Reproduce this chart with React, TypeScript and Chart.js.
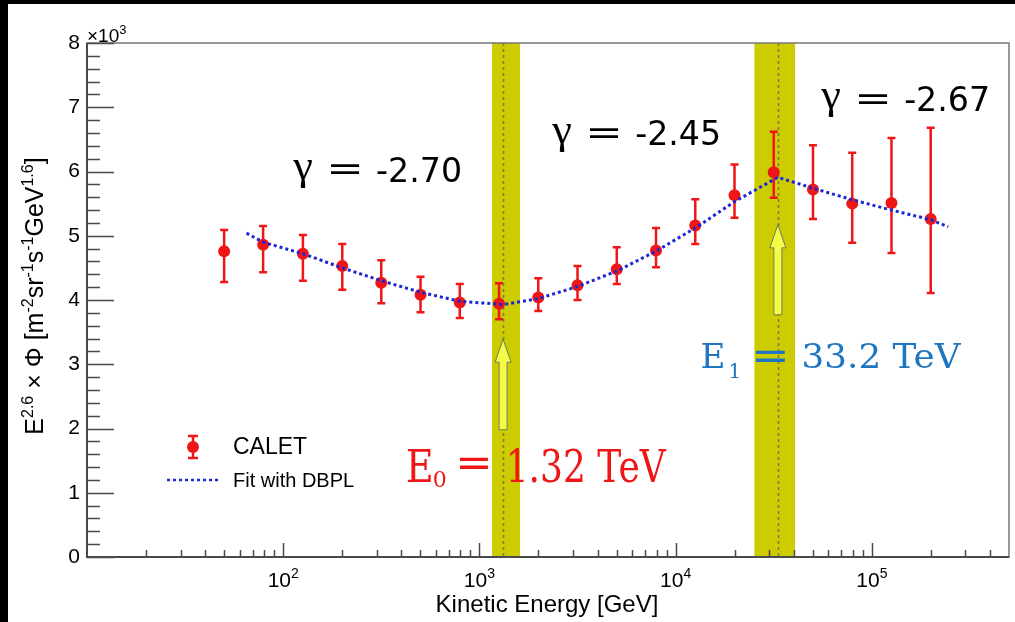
import React, { useEffect, useRef } from "react";
import { Chart, registerables } from "chart.js";

Chart.register(...registerables);

// ---------------- data ----------------
const energyGeV = [50, 79, 126, 200, 316, 501, 794, 1259, 1995, 3162, 5012, 7943, 12589, 19953, 31623, 50119, 79433, 125893, 199526];
const fluxE3 = [4.76, 4.86, 4.72, 4.53, 4.27, 4.08, 3.96, 3.94, 4.04, 4.23, 4.48, 4.77, 5.16, 5.63, 5.99, 5.72, 5.5, 5.51, 5.26];
const fluxUpperE3 = [5.09, 5.15, 5.01, 4.87, 4.62, 4.36, 4.25, 4.26, 4.34, 4.53, 4.82, 5.12, 5.57, 6.11, 6.62, 6.41, 6.29, 6.52, 6.68];
const fluxLowerE3 = [4.28, 4.43, 4.3, 4.16, 3.95, 3.81, 3.72, 3.7, 3.83, 4.0, 4.25, 4.51, 4.87, 5.28, 5.59, 5.26, 4.89, 4.73, 4.11];

const fitEnergyGeV = [65, 79, 126, 200, 316, 501, 794, 1320, 1995, 3162, 5012, 7943, 12589, 19953, 33200, 50119, 79433, 125893, 199526, 245000];
const fitFluxE3 = [5.04, 4.9, 4.72, 4.5, 4.3, 4.12, 3.98, 3.93, 4.02, 4.21, 4.45, 4.76, 5.12, 5.53, 5.91, 5.74, 5.56, 5.4, 5.25, 5.14];

const breakEnergyGeV = [1320, 33200];
const breakBandLowGeV = [1160, 25200];
const breakBandHighGeV = [1610, 40600];
const breakValueLabels = ["1.32 TeV", "33.2 TeV"];
const breakSubscripts = ["0", "1"];
const gammaValues = ["-2.70", "-2.45", "-2.67"];
const seriesNames = ["CALET", "Fit with DBPL"];
const yTickValues = [0, 1, 2, 3, 4, 5, 6, 7, 8];
const xDecadeExponents = [2, 3, 4, 5];

// ---------------- annotation anchors (data coordinates) ----------------
const gammaAnchors = [
  { x: 111, y: 5.84 },
  { x: 2320, y: 6.41 },
  { x: 54500, y: 6.94 },
];
const breakLabelAnchors = [
  { x: 421, y: 1.17 },
  { x: 13400, y: 2.94 },
];
const arrowSpans = [
  { from: 1.98, to: 3.39 },
  { from: 3.77, to: 5.17 },
];

// ---------------- styles ----------------
const RED = "rgb(238,22,22)";
const BLUE = "rgb(28,38,215)";
const BAND = "#cccc00";
const AXIS = "#4a4a4a";
const SANS = "'Liberation Sans', Arial, sans-serif";

function fitText(ctx: CanvasRenderingContext2D, text: string, x: number, y: number, font: string, width: number) {
  ctx.save();
  ctx.font = font;
  const w = ctx.measureText(text).width;
  const sx = width / w;
  ctx.translate(x, y);
  ctx.scale(sx, 1);
  ctx.fillText(text, 0, 0);
  ctx.restore();
}

function fitBox(ctx: CanvasRenderingContext2D, text: string, left: number, top: number, width: number, height: number, font: string) {
  ctx.save();
  ctx.font = font;
  const m = ctx.measureText(text);
  const bw = m.actualBoundingBoxLeft + m.actualBoundingBoxRight;
  const bh = m.actualBoundingBoxAscent + m.actualBoundingBoxDescent;
  const sx = width / bw;
  const sy = height / bh;
  ctx.translate(left, top);
  ctx.scale(sx, sy);
  ctx.fillText(text, m.actualBoundingBoxLeft, m.actualBoundingBoxAscent);
  ctx.restore();
}

function centeredGlyph(ctx: CanvasRenderingContext2D, text: string, x: number, cy: number, font: string, width: number) {
  ctx.save();
  ctx.font = font;
  const m = ctx.measureText(text);
  const mid = (m.actualBoundingBoxAscent - m.actualBoundingBoxDescent) / 2;
  const sx = width / (m.actualBoundingBoxLeft + m.actualBoundingBoxRight);
  ctx.translate(x, cy + mid);
  ctx.scale(sx, 1);
  ctx.fillText(text, m.actualBoundingBoxLeft, 0);
  ctx.restore();
}

type Seg = [string, number];
function richWidth(ctx: CanvasRenderingContext2D, segs: Seg[], size: number, supSize: number) {
  let w = 0;
  for (const [t, s] of segs) {
    ctx.font = `${s ? supSize : size}px ${SANS}`;
    w += ctx.measureText(t).width;
  }
  return w;
}
function drawRich(ctx: CanvasRenderingContext2D, segs: Seg[], x: number, y: number, size: number, supSize: number, rise: number) {
  let cx = x;
  for (const [t, s] of segs) {
    ctx.font = `${s ? supSize : size}px ${SANS}`;
    ctx.fillText(t, cx, s ? y - rise : y);
    cx += ctx.measureText(t).width;
  }
}

const rootPlugin = {
  id: "rootStyle",
  beforeDatasetsDraw(chart: any) {
    const { ctx, chartArea: a, scales } = chart;
    const x = scales.x, y = scales.y;
    ctx.save();
    // break bands
    ctx.fillStyle = BAND;
    for (let i = 0; i < breakEnergyGeV.length; i++) {
      const l = x.getPixelForValue(breakBandLowGeV[i]);
      const r = x.getPixelForValue(breakBandHighGeV[i]);
      ctx.fillRect(l, a.top, r - l, a.bottom - a.top);
    }
    // dotted break lines
    ctx.strokeStyle = "rgb(125,125,70)";
    ctx.lineWidth = 1.6;
    ctx.setLineDash([3, 3]);
    for (const e of breakEnergyGeV) {
      const px = Math.round(x.getPixelForValue(e)) + 0.5;
      ctx.beginPath();
      ctx.moveTo(px, a.top);
      ctx.lineTo(px, a.bottom);
      ctx.stroke();
    }
    ctx.setLineDash([]);
    // error bars
    ctx.strokeStyle = RED;
    ctx.lineWidth = 2.5;
    for (let i = 0; i < energyGeV.length; i++) {
      const px = x.getPixelForValue(energyGeV[i]);
      const yh = y.getPixelForValue(fluxUpperE3[i]);
      const yl = y.getPixelForValue(fluxLowerE3[i]);
      ctx.beginPath();
      ctx.moveTo(px, yh);
      ctx.lineTo(px, yl);
      ctx.moveTo(px - 4, yh);
      ctx.lineTo(px + 4, yh);
      ctx.moveTo(px - 4, yl);
      ctx.lineTo(px + 4, yl);
      ctx.stroke();
    }
    ctx.restore();
  },
  afterDatasetsDraw(chart: any) {
    const { ctx, chartArea: a, scales } = chart;
    const x = scales.x, y = scales.y;
    ctx.save();

    // arrows
    for (let i = 0; i < breakEnergyGeV.length; i++) {
      const cx = x.getPixelForValue(breakEnergyGeV[i]);
      const yb = y.getPixelForValue(arrowSpans[i].from);
      const yt = y.getPixelForValue(arrowSpans[i].to);
      const hb = yt + 23;
      ctx.beginPath();
      ctx.moveTo(cx - 4, yb);
      ctx.lineTo(cx - 4, hb);
      ctx.lineTo(cx - 8, hb);
      ctx.lineTo(cx, yt);
      ctx.lineTo(cx + 8, hb);
      ctx.lineTo(cx + 4, hb);
      ctx.lineTo(cx + 4, yb);
      ctx.closePath();
      ctx.fillStyle = "rgb(243,252,70)";
      ctx.fill();
      ctx.strokeStyle = "rgb(120,120,100)";
      ctx.lineWidth = 1;
      ctx.stroke();
    }

    // frame
    ctx.strokeStyle = "#777";
    ctx.lineWidth = 1.5;
    ctx.strokeRect(a.left, a.top, a.right - a.left, a.bottom - a.top);
    ctx.strokeStyle = AXIS;
    ctx.lineWidth = 2;
    ctx.beginPath();
    ctx.moveTo(a.left, a.top);
    ctx.lineTo(a.left, a.bottom);
    ctx.lineTo(a.right, a.bottom);
    ctx.stroke();

    // y ticks
    ctx.lineWidth = 1.5;
    ctx.beginPath();
    for (let v = 0; v <= 40; v++) {
      const val = v / 5;
      const py = Math.round(y.getPixelForValue(val)) + 0.5;
      const len = v % 5 === 0 ? 27 : 13;
      ctx.moveTo(a.left, py);
      ctx.lineTo(a.left + len, py);
    }
    // x ticks
    for (let d = 1; d <= 5; d++) {
      for (let m = 1; m <= 9; m++) {
        const e = m * Math.pow(10, d);
        if (e <= 10 || e >= 5e5) continue;
        const px = Math.round(x.getPixelForValue(e)) + 0.5;
        const len = m === 1 ? 14 : 7;
        ctx.moveTo(px, a.bottom);
        ctx.lineTo(px, a.bottom - len);
      }
    }
    ctx.stroke();

    // x labels
    ctx.fillStyle = "#000";
    ctx.textBaseline = "alphabetic";
    ctx.textAlign = "left";
    for (const ex of xDecadeExponents) {
      const px = x.getPixelForValue(Math.pow(10, ex));
      const segs: Seg[] = [["10", 0], [String(ex), 1]];
      const w = richWidth(ctx, segs, 21, 14);
      drawRich(ctx, segs, px - w / 2, a.bottom + 30, 21, 14, 9);
    }
    // x title
    ctx.font = `24px ${SANS}`;
    ctx.textAlign = "center";
    ctx.fillText("Kinetic Energy [GeV]", (a.left + a.right) / 2 - 1, a.bottom + 55);
    ctx.textAlign = "left";

    // x10^3
    drawRich(ctx, [["\u00d710", 0], ["3", 1]], a.left, a.top - 1, 19, 13, 8);

    // y title
    ctx.save();
    ctx.translate(35, (a.top + a.bottom) / 2 - 4);
    ctx.rotate(-Math.PI / 2);
    const ySegs: Seg[] = [
      ["E", 0], ["2.6", 1], [" \u00d7 \u03a6 [m", 0], ["-2", 1], ["sr", 0], ["-1", 1],
      ["s", 0], ["-1", 1], ["GeV", 0], ["1.6", 1], ["]", 0],
    ];
    const tw = richWidth(ctx, ySegs, 25, 16);
    drawRich(ctx, ySegs, -tw / 2, 0, 25, 16, 10);
    ctx.restore();

    // gamma labels
    for (let i = 0; i < gammaValues.length; i++) {
      const px = x.getPixelForValue(gammaAnchors[i].x);
      const py = y.getPixelForValue(gammaAnchors[i].y);
      ctx.fillStyle = "#000";
      fitBox(ctx, "\u03b3", px, py - 23, 20, 30, `40px 'Liberation Serif', serif`);
      centeredGlyph(ctx, "=", px + 38, py - 12.5, `34px 'DejaVu Sans'`, 29);
      fitText(ctx, gammaValues[i], px + 84, py, `33px 'DejaVu Sans', sans-serif`, 86);
    }

    // break energy labels
    const bl = [
      { color: RED, eSize: 44, eW: 28, subDx: 27, subDy: 5, subSize: 22, eqDx: 54, eqW: 29, eqDy: -19, vDx: 100, vW: 160 },
      { color: "rgb(30,118,192)", eSize: 34, eW: 25, subDx: 28, subDy: 10, subSize: 20, eqDx: 55, eqW: 30, eqDy: -12.5, vDx: 101, vW: 159 },
    ];
    for (let i = 0; i < breakValueLabels.length; i++) {
      const s = bl[i];
      const px = x.getPixelForValue(breakLabelAnchors[i].x);
      const py = y.getPixelForValue(breakLabelAnchors[i].y);
      ctx.fillStyle = s.color;
      fitText(ctx, "E", px, py, `${s.eSize}px 'DejaVu Serif', serif`, s.eW);
      ctx.font = `${s.subSize}px 'DejaVu Serif', serif`;
      ctx.fillText(breakSubscripts[i], px + s.subDx, py + s.subDy);
      centeredGlyph(ctx, "=", px + s.eqDx, py + s.eqDy, `40px 'DejaVu Sans'`, s.eqW);
      fitText(ctx, breakValueLabels[i], px + s.vDx, py, `${s.eSize}px 'DejaVu Serif', serif`, s.vW);
    }

    // legend
    const lx = a.left + 106;
    const ly1 = a.top + 404;
    const ly2 = a.top + 437;
    ctx.strokeStyle = RED;
    ctx.lineWidth = 2.5;
    ctx.beginPath();
    ctx.moveTo(lx, ly1 - 11);
    ctx.lineTo(lx, ly1 + 11);
    ctx.moveTo(lx - 5, ly1 - 11);
    ctx.lineTo(lx + 5, ly1 - 11);
    ctx.moveTo(lx - 5, ly1 + 11);
    ctx.lineTo(lx + 5, ly1 + 11);
    ctx.stroke();
    ctx.fillStyle = RED;
    ctx.beginPath();
    ctx.arc(lx, ly1, 6, 0, Math.PI * 2);
    ctx.fill();
    ctx.strokeStyle = BLUE;
    ctx.lineWidth = 2.5;
    ctx.setLineDash([3, 3]);
    ctx.beginPath();
    ctx.moveTo(lx - 26, ly2);
    ctx.lineTo(lx + 25, ly2);
    ctx.stroke();
    ctx.setLineDash([]);
    ctx.fillStyle = "#000";
    ctx.textBaseline = "middle";
    ctx.font = `23px ${SANS}`;
    ctx.fillText(seriesNames[0], lx + 40, ly1 + 1);
    ctx.font = `20px ${SANS}`;
    ctx.fillText(seriesNames[1], lx + 40, ly2 + 1);

    ctx.restore();
  },
};

export default function App() {
  const canvasRef = useRef<HTMLCanvasElement | null>(null);

  useEffect(() => {
    const canvas = canvasRef.current;
    if (!canvas) return;
    const chart = new Chart(canvas, {
      type: "line",
      data: {
        datasets: [
          {
            label: seriesNames[1],
            data: fitEnergyGeV.map((e, i) => ({ x: e, y: fitFluxE3[i] })),
            borderColor: BLUE,
            borderWidth: 3,
            borderDash: [3, 3],
            pointRadius: 0,
            tension: 0,
            fill: false,
            order: 0,
          },
          {
            label: seriesNames[0],
            data: energyGeV.map((e, i) => ({ x: e, y: fluxE3[i] })),
            showLine: false,
            pointRadius: 6,
            pointBackgroundColor: RED,
            pointBorderWidth: 0,
            borderColor: RED,
            backgroundColor: RED,
            order: 1,
          },
        ],
      },
      options: {
        animation: false,
        responsive: false,
        maintainAspectRatio: false,
        layout: { padding: { left: 0, top: 39, right: 2, bottom: 0 } },
        plugins: { legend: { display: false }, tooltip: { enabled: false } },
        scales: {
          x: {
            type: "logarithmic",
            min: 10,
            max: 5e5,
            grid: { display: false },
            border: { display: false },
            ticks: { display: false },
            afterFit: (s: any) => {
              s.height = 65;
            },
          },
          y: {
            min: 0,
            max: 8,
            grid: { display: false, drawTicks: false },
            border: { display: false },
            afterBuildTicks: (s: any) => {
              s.ticks = yTickValues.map((v) => ({ value: v }));
            },
            ticks: {
              color: "#000",
              padding: 7,
              font: { family: "'Liberation Sans', Arial, sans-serif", size: 21 },
              callback: (v: any) => String(v),
            },
            afterFit: (s: any) => {
              s.width = 79;
            },
          },
        },
      } as any,
      plugins: [rootPlugin],
    });
    return () => chart.destroy();
  }, []);

  return (
    <div style={{ position: "fixed", left: 0, top: 0, width: 1015, height: 622, background: "#000" }}>
      <div style={{ position: "absolute", left: 8, top: 4, width: 1007, height: 618, background: "#fff" }}>
        <canvas ref={canvasRef} width={1007} height={618} style={{ width: 1007, height: 618, display: "block" }} />
      </div>
    </div>
  );
}
